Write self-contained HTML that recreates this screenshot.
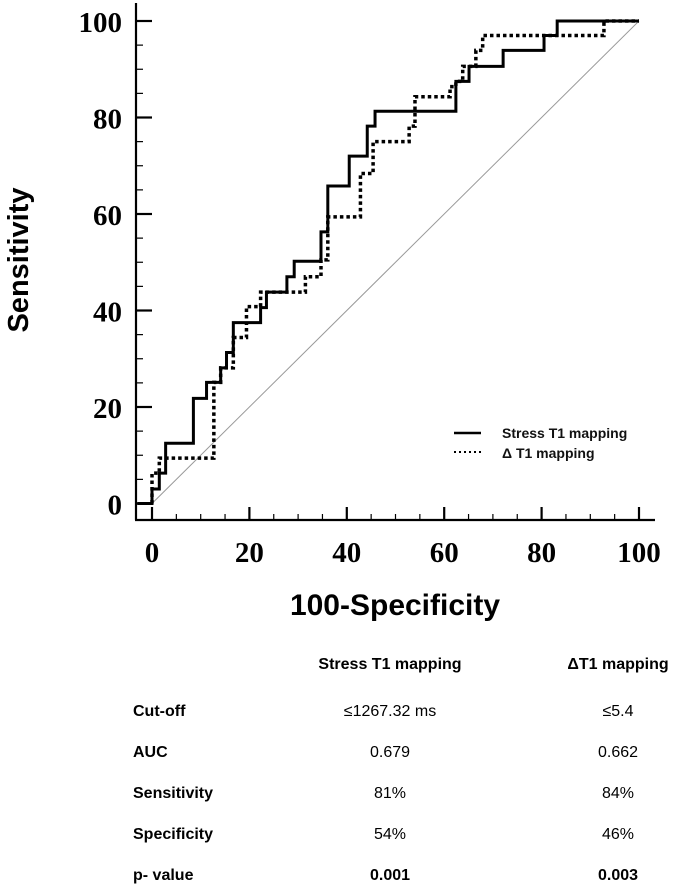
<!DOCTYPE html>
<html><head><meta charset="utf-8"><style>
body{margin:0;background:#fff;width:680px;height:890px;overflow:hidden}
svg{position:absolute;left:0;top:0}
.tk{font-family:"Liberation Serif",serif;font-weight:bold;font-size:29px}
.sans{font-family:"Liberation Sans",sans-serif}
</style></head><body>
<svg id="c" width="680" height="890"></svg>
<script>
const xTicks=[0,20,40,60,80,100];
const yTicks=[0,20,40,60,80,100];
const stressX=[-3,0,0,1.5,1.5,2.8,2.8,8.5,8.5,11.2,11.2,14.1,14.1,15.3,15.3,16.7,16.7,22.3,22.3,23.5,23.5,27.7,27.7,29.2,29.2,34.7,34.7,36.1,36.1,40.5,40.5,44.2,44.2,45.8,45.8,62.4,62.4,65.1,65.1,72.1,72.1,80.5,80.5,83.2,83.2,100];
const stressY=[0,0,3,3,6.3,6.3,12.5,12.5,21.8,21.8,25.1,25.1,28.1,28.1,31.3,31.3,37.5,37.5,40.6,40.6,43.8,43.8,47,47,50.2,50.2,56.3,56.3,65.8,65.8,72,72,78.2,78.2,81.3,81.3,87.5,87.5,90.6,90.6,93.9,93.9,97,97,100,100];
const deltaX=[0,0,1.5,1.5,12.7,12.7,14.1,14.1,16.7,16.7,19.4,19.4,22.3,22.3,31.5,31.5,34.7,34.7,36.1,36.1,42.8,42.8,45.4,45.4,52.8,52.8,54.0,54.0,61.2,61.2,62.4,62.4,63.8,63.8,66.5,66.5,67.9,67.9,92.8,92.8,100];
const deltaY=[0,6.3,6.3,9.4,9.4,25.1,25.1,28.1,28.1,34.4,34.4,40.8,40.8,43.8,43.8,47,47,50.5,50.5,59.4,59.4,68.4,68.4,75,75,78.2,78.2,84.3,84.3,86.4,86.4,87.5,87.5,90.6,90.6,93.9,93.9,97,97,100,100];
const X=v=>152+v*4.87, Y=v=>503.5-v*4.825;
const svg=document.getElementById('c'), NS='http://www.w3.org/2000/svg';
function mk(t,a,p){const e=document.createElementNS(NS,t);for(const k in a)e.setAttribute(k,a[k]);(p||svg).appendChild(e);return e;}
let e;
e=mk('line',{x1:136,y1:3,x2:136,y2:520,stroke:'#000','stroke-width':2.2});


e=mk('line',{x1:135,y1:520,x2:655,y2:520,stroke:'#000','stroke-width':2.2});


for(let v=0;v<=100;v+=5){const maj=v%20===0;
 e=mk('line',{x1:136,y1:Y(v),x2:136+(maj?16:7),y2:Y(v),stroke:'#000','stroke-width':maj?2.2:1.2});
 
 
 e=mk('line',{x1:X(v),y1:520,x2:X(v),y2:520-(maj?13:6),stroke:'#000','stroke-width':maj?2.2:1.2});
 
 }
yTicks.forEach(v=>{e=mk('text',{x:122,y:Y(v)+11,'text-anchor':'end',class:'tk'});e.textContent=v;
 
 });
xTicks.forEach(v=>{e=mk('text',{x:X(v),y:562,'text-anchor':'middle',class:'tk'});e.textContent=v;
 
 });
e=mk('line',{x1:X(0),y1:Y(0),x2:X(100),y2:Y(100),stroke:'#999','stroke-width':1});


function pts(xs,ys){return xs.map((x,i)=>X(x)+','+Y(ys[i])).join(' ');}
e=mk('polyline',{points:pts(deltaX,deltaY),fill:'none',stroke:'#000','stroke-width':3.5,'stroke-dasharray':'3.5 3'});


e=mk('polyline',{points:pts(stressX,stressY),fill:'none',stroke:'#000','stroke-width':3});


e=mk('line',{x1:454,y1:433,x2:481,y2:433,stroke:'#000','stroke-width':2.5});


e=mk('line',{x1:454,y1:452,x2:481,y2:452,stroke:'#000','stroke-width':2,'stroke-dasharray':'2 3'});


e=mk('text',{x:502,y:438,class:'sans','font-size':14,'font-weight':'bold','fill':'#111'});e.textContent='Stress T1 mapping';


e=mk('text',{x:502,y:458,class:'sans','font-size':14,'font-weight':'bold','fill':'#111'});e.textContent='Δ T1 mapping';


e=mk('text',{x:0,y:0,class:'sans','font-size':29,'font-weight':'bold','text-anchor':'middle',transform:'translate(28,260) rotate(-90)'});e.textContent='Sensitivity';


e=mk('text',{x:395,y:615,class:'sans','font-size':30,'font-weight':'bold','text-anchor':'middle'});e.textContent='100-Specificity';


const rows=[['Cut-off','≤1267.32 ms','≤5.4'],['AUC','0.679','0.662'],['Sensitivity','81%','84%'],['Specificity','54%','46%'],['p- value','0.001','0.003']];
const rowY=[716,757,798,839,880];
e=mk('text',{x:390,y:669,class:'sans','font-size':16,'font-weight':'bold','text-anchor':'middle'});e.textContent='Stress T1 mapping';


e=mk('text',{x:618,y:669,class:'sans','font-size':16,'font-weight':'bold','text-anchor':'middle'});e.textContent='ΔT1 mapping';


rows.forEach((r,i)=>{const last=i===4;
 e=mk('text',{x:133,y:rowY[i],class:'sans','font-size':16,'font-weight':'bold'});e.textContent=r[0];
 
 
 e=mk('text',{x:390,y:rowY[i],class:'sans','font-size':16,'font-weight':last?'bold':'normal','text-anchor':'middle'});e.textContent=r[1];
 
 
 e=mk('text',{x:618,y:rowY[i],class:'sans','font-size':16,'font-weight':last?'bold':'normal','text-anchor':'middle'});e.textContent=r[2];
 
 });
</script>
</body></html>
